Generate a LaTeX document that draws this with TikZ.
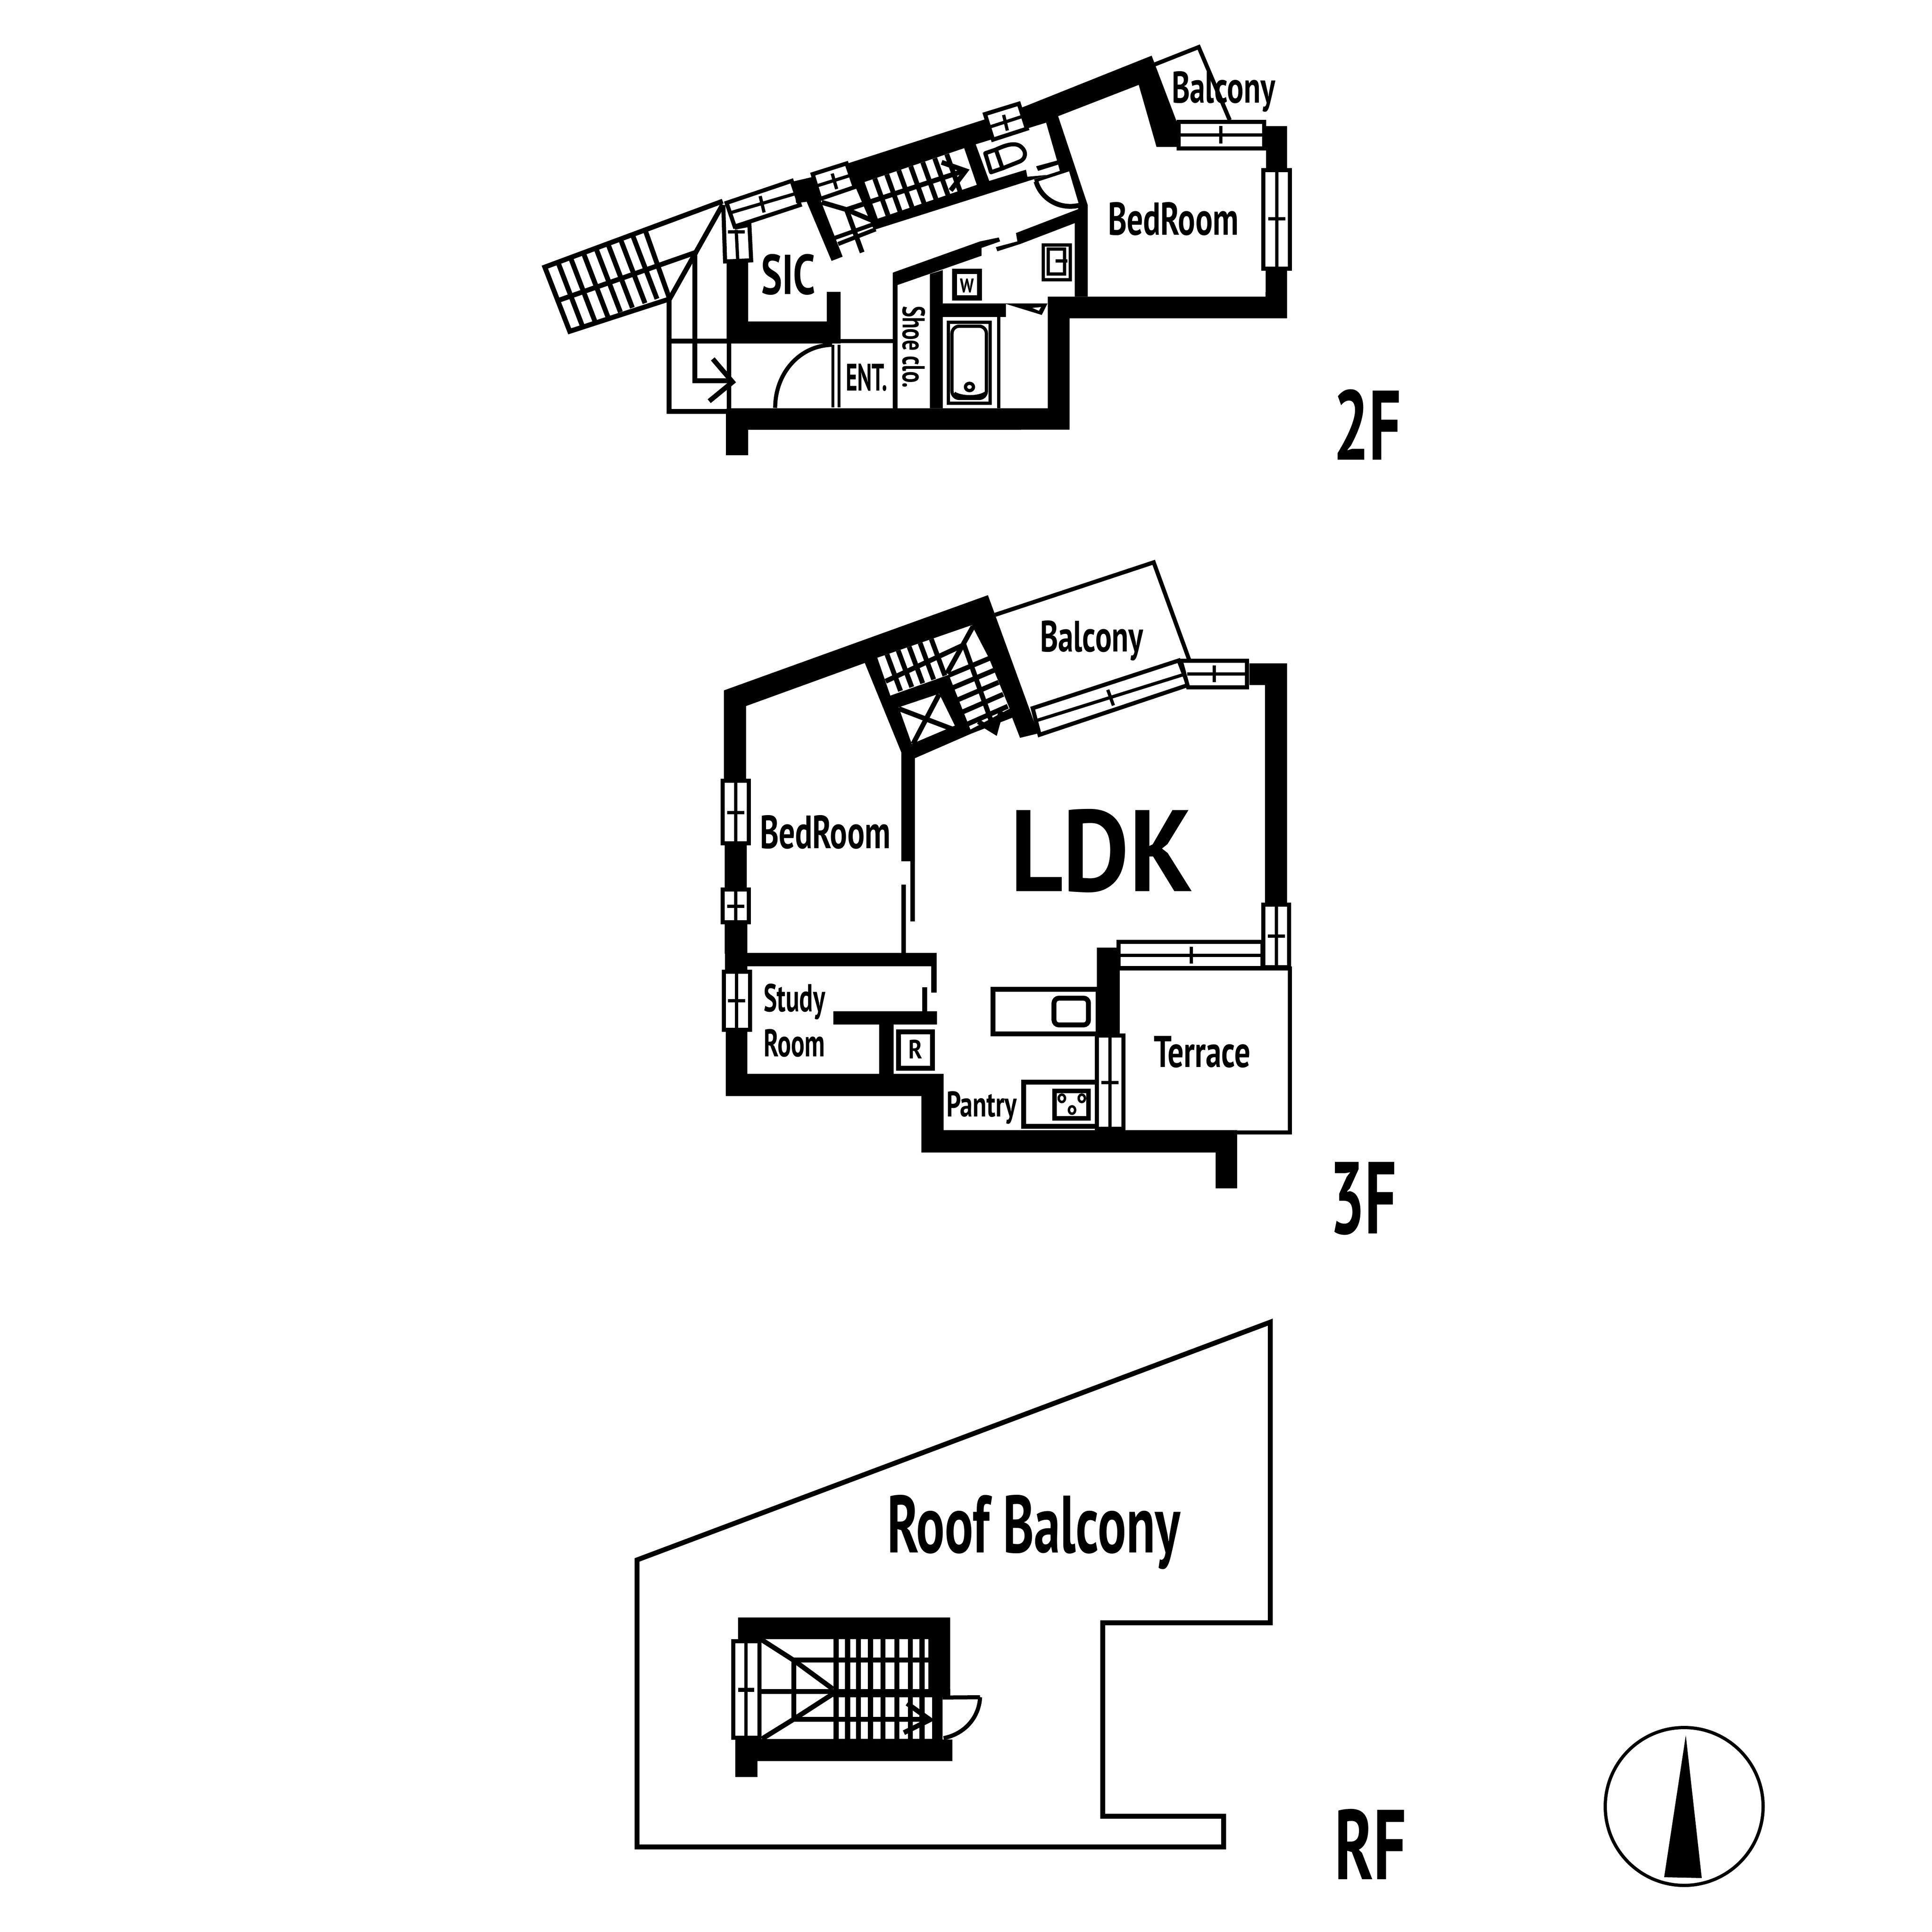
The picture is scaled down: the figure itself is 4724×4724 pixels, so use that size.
\documentclass[tikz,border=0pt]{standalone}
\usepackage{fontspec}
\usepackage{graphicx}
\setmainfont{PT Sans}
\newcommand{\lbl}[6]{\node[lab] (#1) at (#2,#3) {\resizebox{#4pt}{#5pt}{\bfseries #6}};}
\tikzset{
 lab/.style={anchor=base west,inner sep=0pt,outer sep=0pt},
 wall/.style={fill=black,draw=none},
 hole/.style={fill=white,draw=none},
 ln/.style={draw=black,line width=10pt},
 lnb/.style={draw=black,line width=12pt},
 lnt/.style={draw=black,line width=8pt},
 win/.style={fill=white,draw=black,line width=10pt},
 box/.style={fill=white,draw=black,line width=12pt},
 zA/.style={xshift=1250pt,yshift=-80pt,x=.7334pt,y=-.6888pt},
 zB/.style={xshift=2200pt,yshift=-80pt,x=.7015pt,y=-.6378pt},
 zC/.style={xshift=1700pt,yshift=-1350pt,x=.6378pt,y=-.6378pt},
 zD/.style={xshift=1700pt,yshift=-2200pt,x=.9566pt,y=-.4783pt},
 zE/.style={xshift=1700pt,yshift=-3900pt,x=.5102pt,y=-.3333pt},
 zF/.style={xshift=2400pt,yshift=-1350pt,x=.5102pt,y=-.3333pt},
 zO/.style={x=3.0128pt,y=-3.0128pt},
}
\begin{document}
\begin{tikzpicture}[x=1pt,y=-1pt]
\useasboundingbox (0,0) rectangle (4724,4724);
\fill[white] (0,0) rectangle (4724,4724);
% ---------- 2F right ----------
\begin{scope}[zB]
\fill[wall] (-184,502)--(430,285)--(878,88)--(965,340)--(965,438)--(895,438)--(833,200)--(552,320)--(655,660)--(625,660)--(590,530)--(515,545)--(-90,756)--(-153,595)--cycle;
% toilet room
\fill[hole] (265,428)--(510,345)--(548,490)--(475,512)--(482,530)--(552,506)--(558,530)--(515,545)--(445,552)--(440,525)--(312,568)--cycle;
\draw[ln,line join=round] (298,462)--(335,448)--(358,520)--(318,535)--cycle;
\draw[ln] (335,448) .. controls (370,430) and (400,420) .. (420,435) .. controls (445,455) and (440,485) .. (415,495) -- (358,520);
\draw[win] (297,312)--(415,272)--(443,368)--(325,410)--cycle;
\draw[lnt] (312,362)--(430,320);
\draw[lnt] (362,315)--(375,375);
% hall door
\draw[lnt] (470,568)--(590,525);
\draw[lnb] (475,570) .. controls (490,630) and (550,680) .. (625,662);
% diagonal walls
\fill[wall] (-20,918)--(280,800)--(345,785)--(350,800)--(285,825)--(285,855)--(-20,972)--cycle;
\fill[wall] (405,768)--(625,675)--(640,675)--(610,730)--(420,810)--(340,838)--(335,822)--(410,800)--cycle;
\fill[wall] (625,660)--(655,660)--(655,1012)--(610,1012)--(610,730)--cycle;
\fill[wall] (105,925)--(150,910)--(150,1038)--(370,1038)--(370,1090)--(150,1090)--(150,1440)--(105,1440)--cycle;
\fill[wall] (365,1038)--(515,1038)--(495,1082)--cycle;
\fill[hole] (462,1055)--(492,1052)--(485,1066)--cycle;
% outer walls
\fill[wall] (1277,358)--(1350,358)--(1350,1095)--(592,1095)--(592,1522)--(-600,1522)--(-600,1440)--(516,1440)--(516,1012)--(1275,1012)--cycle;
% bath
\draw[lnt] (345,1090)--(345,1440);
\draw[lnt] (170,1110) rectangle (315,1420);
\draw[lnt,rounded corners=18pt] (182,1125) rectangle (302,1402);
\draw[lnt] (190,1382) .. controls (215,1400) and (275,1400) .. (298,1382);
\draw[lnt] (243,1358) circle[x radius=14,y radius=14];
% W box
\draw[draw=black,line width=12.5pt] (191,915) rectangle (278,1017);
% wash box
\draw[lnt] (500,813) rectangle (595,947);
\draw[lnt] (517,829) rectangle (574,925);
\draw[lnt] (543,875)--(585,875);
% balcony
\draw[ln] (888,122)--(1042,55)--(1150,335);
% window top
\draw[win] (972,342)--(1270,342)--(1270,443)--(972,443)--cycle;
\draw[lnt] (972,392)--(1270,392);
\draw[lnt] (1119,358)--(1119,425);
% window right
\draw[win] (1267,527)--(1360,527)--(1360,905)--(1267,905)--cycle;
\draw[lnt] (1314,527)--(1314,905);
\draw[lnt] (1284,713)--(1344,713);
\end{scope}
% ---------- 2F left ----------
\begin{scope}[zA]
% outside stair
\draw[lnb] (705,598)--(112,832)--(195,1060)--(528,945)--(705,610);
\draw[lnb] (448,705)--(528,945);
\draw[lnb] (158,950)--(620,778);
\foreach \tx in {155,197,240,282,322,364,404}{
 \draw[lnb] ({\tx},{830-.385*(\tx-110)})--++(82,228);
}
\draw[lnb] (526,945)--(526,1345)--(725,1345);
\draw[lnb] (526,1095)--(725,1095);
\draw[lnb] (612,785)--(612,1235)--(730,1235);
% small vertical window
\draw[win] (707,612)--(713,812)--(800,808)--(794,682)--(745,692);
\draw[lnt] (750,700)--(755,805);
\draw[lnt] (722,707)--(778,707);
% window
\draw[win] (718,604)--(935,526)--(962,612)--(745,688)--cycle;
\draw[lnt] (728,640)--(945,572);
\draw[lnt] (830,580)--(843,638);
% walls
\fill[wall] (718,812)--(790,812)--(790,1025)--(1052,1025)--(1052,920)--(1098,920)--(1098,1103)--(718,1103)--cycle;
\fill[wall] (718,1100)--(734,1100)--(734,1340)--(718,1340)--cycle;
\draw[lnb] (672,1158)--(738,1240)--(660,1308);
\draw[ln] (1098,1095)--(1280,1095);
\draw[draw=black,line width=7pt] (1072,1108)--(1072,1330);
\draw[draw=black,line width=7pt] (1093,1108)--(1093,1330);
\draw[ln] (880,1332) .. controls (880,1210) and (960,1110) .. (1070,1108);
\fill[wall] (716,1335)--(1700,1335)--(1700,1409)--(790,1409)--(790,1500)--(716,1500)--cycle;
\fill[wall] (1272,852)--(1300,842)--(1300,885)--(1288,895)--(1288,1335)--(1272,1335)--cycle;
% stair wall piece + small window
\fill[wall] (940,528)--(1005,512)--(1035,605)--(1105,795)--(1068,810)--(985,600)--(950,605)--cycle;
\draw[lnb] (1035,602)--(1118,628)--(1207,668);
\draw[lnb] (1118,628)--(1170,780);
\draw[ln] (1080,728)--(1207,680);
\draw[ln] (1090,750)--(1215,698);
\fill[hole] (1178,530)--(1510,410)--(1552,540)--(1222,660)--cycle;
\foreach \tx in {1212,1252,1292,1332,1372,1412,1452}{
 \draw[lnb] ({\tx},{530-.36*(\tx-1178)})--++(44,130);
}
\draw[lnb] (1118,628)--(1510,490);
\draw[lnb] (1435,460)--(1515,490)--(1465,560);
\draw[win] (1005,502)--(1118,464)--(1145,548)--(1030,590)--cycle;
\draw[lnt] (1015,545)--(1135,505);
\draw[lnt] (1070,500)--(1085,555);
\end{scope}
\lbl{sic}{1861}{719}{133}{98}{SIC}
\lbl{ent}{2068}{955}{102}{66}{ENT.}
\node[lab,rotate=-90] (shoe) at (2207,748) {\resizebox{200pt}{55pt}{\bfseries Shoe clo.}};
\lbl{bed2}{2709}{574}{319}{80}{BedRoom}
\lbl{bal2}{2865}{251}{253}{77}{Balcony}
\lbl{wlet}{2347}{715}{34}{34}{W}
\lbl{f2}{3260}{1124}{166}{172}{2F}
% ---------- 3F ----------
\begin{scope}[zC]
\fill[wall] (110,530)--(1122,165)--(1315,695)--(1245,712)--(1215,635)--(1060,695)--(842,790)--(842,1185)--(790,1185)--(790,768)--(650,425)--(195,590)--(195,870)--(110,870)--cycle;
\fill[hole] (698,405)--(1060,280)--(1125,405)--(1205,600)--(1055,680)--(972,470)--(748,550)--cycle;
\fill[hole] (780,595)--(935,543)--(995,665)--(830,735)--cycle;
\foreach \tx in {735,778,820,862,905}{
 \draw[lnb] ({\tx},{405-.345*(\tx-698)})--++(52,140);
}
\draw[lnb] (730,495)--(1030,355);
\draw[lnb] (1065,285)--(965,465);
\draw[lnb] (1030,355)--(1148,685);
\foreach \k in {0,1,2,3,4}{
 \draw[lnb] ({972+17.5*\k},{472+47*\k})--({1128+17.5*\k},{407+46*\k});
}
\draw[lnb] (1085,650)--(1150,690)--(1172,610);
\draw[lnb] (780,600)--(990,680);
\draw[lnb] (935,545)--(835,735);
\fill[wall] (825,1185)--(842,1185)--(842,1415)--(825,1415)--cycle;
\fill[wall] (790,1275)--(808,1275)--(808,1545)--(790,1545)--cycle;
\fill[wall] (113,1120)--(197,1120)--(197,1290)--(113,1290)--cycle;
\draw[win] (105,876)--(205,876)--(205,1117)--(105,1117)--cycle;
\draw[lnt] (155,876)--(155,1117);
\draw[lnt] (122,998)--(188,998);
\fill[wall] (113,1420)--(197,1420)--(197,1540)--(113,1540)--cycle;
\draw[win] (105,1293)--(205,1293)--(205,1419)--(105,1419)--cycle;
\draw[lnt] (155,1293)--(155,1419);
\draw[lnt] (122,1357)--(188,1357);
\end{scope}
\begin{scope}[zD]
\fill[wall] (76,120)--(133,120)--(133,272)--(617,272)--(617,475)--(603,475)--(603,340)--(133,340)--(133,360)--(76,360)--cycle;
\fill[wall] (580,447)--(593,447)--(593,575)--(580,575)--cycle;
\fill[wall] (78,670)--(133,670)--(133,890)--(470,890)--(470,638)--(353,638)--(353,570)--(618,570)--(618,638)--(507,638)--(507,890)--(635,890)--(635,1178)--(1385,1178)--(1385,1475)--(1330,1475)--(1330,1292)--(578,1292)--(578,1003)--(78,1003)--cycle;
\draw[win] (73,367)--(140,367)--(140,665)--(73,665)--cycle;
\draw[lnt] (106,367)--(106,665);
\draw[lnt] (84,517)--(128,517);
% R box
\draw[box] (520,675)--(606,675)--(606,862)--(520,862)--cycle;
% sink counter
\draw[box] (761,458)--(1030,458)--(1030,685)--(761,685)--cycle;
\draw[lnb,rounded corners=12pt] (917,503) rectangle (1005,640);
% stove counter
\draw[box] (839,932)--(1030,932)--(1030,1158)--(839,1158)--cycle;
\draw[draw=black,line width=11pt] (918,978) rectangle (1005,1118);
\draw[line width=6pt] (937,1015) ellipse[x radius=8,y radius=19];
\draw[line width=6pt] (988,1015) ellipse[x radius=8,y radius=19];
\draw[line width=6pt] (963,1075) ellipse[x radius=8,y radius=19];
% kitchen wall
\fill[wall] (1027,245)--(1085,245)--(1085,690)--(1027,690)--cycle;
% windows
\draw[win] (1027,695)--(1094,695)--(1094,1170)--(1027,1170)--cycle;
\draw[lnt] (1060,695)--(1060,1170);
\draw[lnt] (1038,935)--(1082,935);
\draw[ln] (1085,352)--(1520,352)--(1520,1190)--(1385,1190);
\draw[win] (1082,215)--(1450,215)--(1450,350)--(1082,350)--cycle;
\draw[lnt] (1082,285)--(1450,285);
\draw[lnt] (1268,240)--(1268,327);
\draw[win] (1452,25)--(1518,25)--(1518,345)--(1452,345)--cycle;
\draw[lnt] (1485,25)--(1485,345);
\draw[lnt] (1463,185)--(1507,185);
\end{scope}
\fill[wall] (3055,1622)--(3147,1622)--(3147,2215)--(3093,2215)--(3093,1675)--(3055,1675)--cycle;
\begin{scope}[zF]
\draw[ln] (65,460)--(825,75)--(995,790);
\draw[win] (245,1145)--(945,795)--(990,975)--(278,1340)--cycle;
\draw[win] (955,797)--(1272,797)--(1272,992)--(990,992)--cycle;
\draw[lnt] (265,1235)--(975,895);
\draw[lnt] (605,1010)--(632,1125);
\draw[lnt] (985,893)--(1265,893);
\draw[lnt] (1115,832)--(1115,955);
\end{scope}
\lbl{bed3}{1858}{2074}{319}{81}{BedRoom}
\lbl{bal3}{2543}{1593}{252}{76}{Balcony}
\lbl{ldk}{2470}{2179}{446}{201}{LDK}
\lbl{study}{1867}{2473}{151}{68}{Study}
\lbl{room}{1867}{2583}{150}{67}{Room}
\lbl{terr}{2821}{2609}{237}{76}{Terrace}
\lbl{pant}{2314}{2730}{172}{62}{Pantry}
\lbl{rlet}{2221}{2588}{34}{46}{R}
\lbl{f3}{3251}{3016}{163}{175}{3F}
% ---------- RF ----------
\begin{scope}[zO]
\draw[lnb] (517,1266)--(1031,1073)--(1031,1317)--(895,1317)--(895,1474)--(993,1474)--(993,1499)--(517,1499)--cycle;
\end{scope}
\begin{scope}[zE]
\fill[wall] (205,165)--(1222,165)--(1222,735)--(1185,735)--(1185,1060)--(1232,1060)--(1232,1218)--(298,1218)--(298,1335)--(192,1335)--(192,1060)--(205,1060)--cycle;
\fill[hole] (315,325)--(1117,325)--(1117,690)--(315,690)--cycle;
\fill[hole] (315,725)--(1135,750)--(1135,1055)--(315,1055)--cycle;
\fill[hole] (315,725)--(660,725)--(660,1055)--(315,1055)--cycle;
\foreach \tx in {675,730,782,840,900,966,1031,1087}{
 \draw[line width=12.5pt] (\tx,325)--(\tx,1055);
}
\draw[lnb] (470,477)--(1117,477);
\draw[lnb] (470,913)--(1125,913);
\draw[lnb] (473,460)--(473,930);
\draw[lnb] (315,325)--(473,480)--(660,690);
\draw[lnb] (660,725)--(473,910)--(320,1055);
\fill[wall] (315,690)--(1222,690)--(1222,750)--(660,750)--(660,725)--(315,725)--cycle;
\draw[win] (182,340)--(307,340)--(307,1048)--(182,1048)--cycle;
\draw[lnt] (243,340)--(243,1048);
\draw[ln] (205,697)--(283,697);
\draw[lnb] (1015,795)--(1125,915)--(1000,1010);
\draw[ln] (1185,752)--(1365,750);
\draw[ln] (1365,750) .. controls (1360,900) and (1290,1020) .. (1190,1050);
\end{scope}
\lbl{roof}{2169}{3796}{717}{141}{Roof Balcony}
\lbl{fr}{3263}{4595}{175}{172}{RF}
% ---------- compass ----------
\coordinate (cc) at (4118,4417);
\draw[draw=black,line width=8pt] (cc) circle[radius=193];
\fill[black] (4122,4243)--(4161,4592)--(4069,4590)--cycle;
\end{tikzpicture}
\end{document}
